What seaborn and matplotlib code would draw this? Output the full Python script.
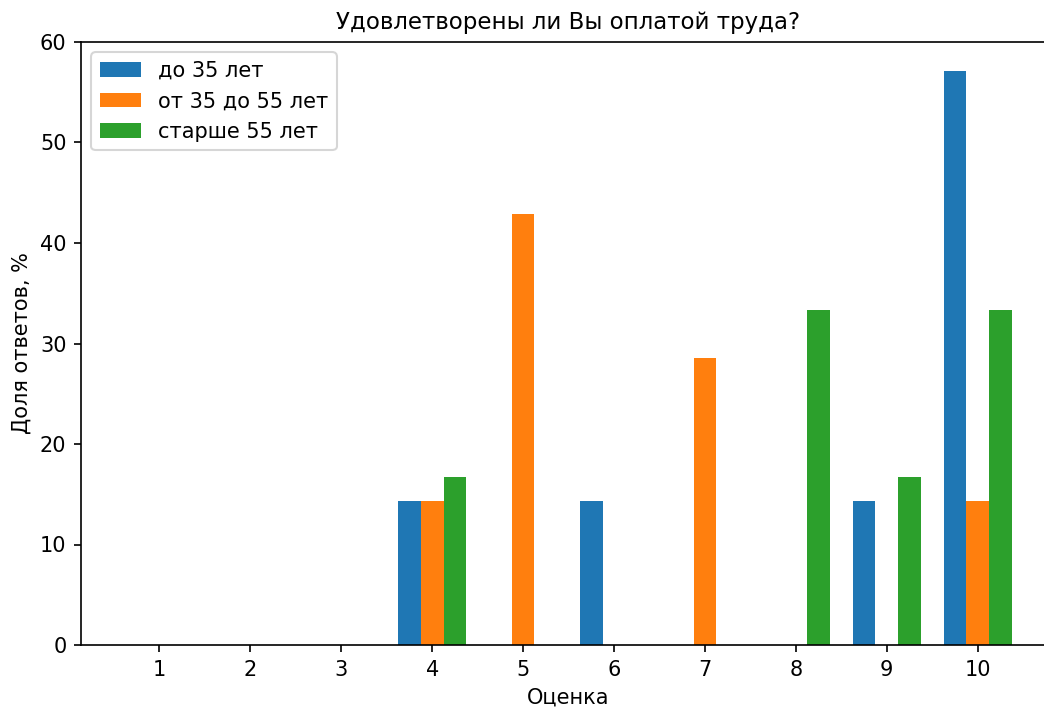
import numpy as np
import pandas as pd
import seaborn as sns
import matplotlib.pyplot as plt

scores = [1, 2, 3, 4, 5, 6, 7, 8, 9, 10]
groups = ['до 35 лет', 'от 35 до 55 лет', 'старше 55 лет']
young = [0, 0, 0, 14.29, 0, 14.29, 0, 0, 14.29, 57.14]
middle = [0, 0, 0, 14.29, 42.86, 0, 28.57, 0, 0, 14.29]
senior = [0, 0, 0, 16.67, 0, 0, 0, 33.33, 16.67, 33.33]
colors = ['#1f77b4', '#ff7f0e', '#2ca02c']

df = pd.DataFrame({
    'score': scores * 3,
    'group': np.repeat(groups, len(scores)),
    'share': young + middle + senior,
})

dpi = 150
fig = plt.figure(figsize=(1044 / dpi, 709 / dpi), dpi=dpi)
ax = fig.add_axes([81 / 1044, 1 - 645 / 709, 975 / 1044, 603 / 709])

sns.barplot(data=df, x='score', y='share', hue='group', order=scores,
            hue_order=groups, palette=colors, width=0.75, errorbar=None,
            saturation=1, ax=ax)

ax.set_xlim(-0.8625, 9.8625)
ax.set_ylim(0, 60)
ax.set_title('Удовлетворены ли Вы оплатой труда?', fontsize=11)
ax.set_xlabel('Оценка')
ax.set_ylabel('Доля ответов, %')
ax.legend(loc='upper left', title=None)

plt.savefig('out.png', dpi=dpi)
plt.close()
